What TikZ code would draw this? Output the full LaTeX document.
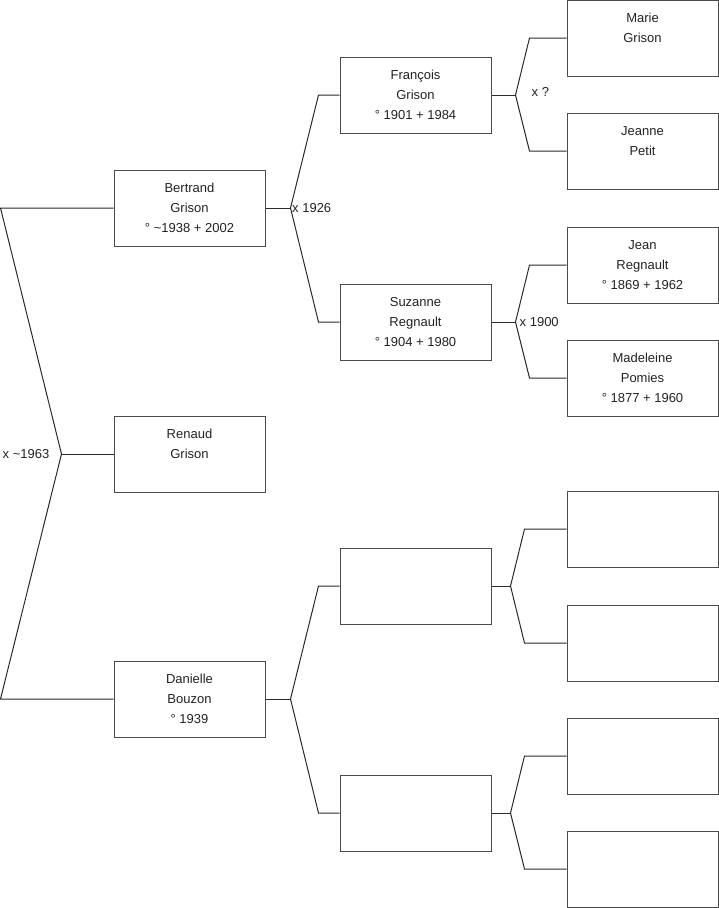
\documentclass[tikz,border=0pt]{standalone}
\usepackage{fontspec}
\setmainfont{Liberation Sans}
\usetikzlibrary{positioning, calc}
\definecolor{inkgray}{HTML}{222222}
\definecolor{boxedge}{HTML}{4A4A4A}
\definecolor{linkgray}{HTML}{2A2A2A}

\begin{document}
\begin{tikzpicture}[x=1pt, y=-1pt,
  person/.style={draw=boxedge, line width=1pt, minimum width=151pt, minimum height=76pt, inner sep=0pt, align=center, text=inkgray, font=\fontsize{13}{20}\selectfont},
  link/.style={draw=linkgray, line width=1pt},
  union/.style={text=inkgray, font=\fontsize{13}{15}\selectfont, inner sep=0pt}]

\useasboundingbox (0,0) rectangle (719,908);

% --- Generation 1 ---
\node[person] (renaud) at (189.5,454) {Renaud\\Grison\\\mbox{}};

% --- Generation 2 ---
\node[person] (bertrand) at (189.5,208) {Bertrand\\Grison\\° \textasciitilde1938 + 2002};
\node[person] (danielle) at (189.5,699) {Danielle\\Bouzon\\° 1939};

% --- Generation 3 ---
\node[person] (francois) at (415.5,95) {François\\Grison\\° 1901 + 1984};
\node[person] (suzanne) at (415.5,322) {Suzanne\\Regnault\\° 1904 + 1980};
\node[person] (b3) at (415.5,586) {};
\node[person] (b4) at (415.5,813) {};

% --- Generation 4 ---
\node[person] (marie) at (642.5,38) {Marie\\Grison\\\mbox{}};
\node[person] (jeanne) at (642.5,151) {Jeanne\\Petit\\\mbox{}};
\node[person] (jean) at (642.5,265) {Jean\\Regnault\\° 1869 + 1962};
\node[person] (madeleine) at (642.5,378) {Madeleine\\Pomies\\° 1877 + 1960};
\foreach \name/\y in {c5/529, c6/643, c7/756, c8/869}
  \node[person] (\name) at (642.5,\y) {};

% Renaud's parents
\coordinate (f1) at ($(renaud.west)+(-52,0)$);
\draw[link] (renaud.west) -- (f1);
\draw[link] (f1) -- ($(bertrand.west)+(-113,0)$) -- (bertrand.west);
\draw[link] (f1) -- ($(danielle.west)+(-113,0)$) -- (danielle.west);
\node[union, left=12pt of f1] (u1) {x \textasciitilde1963};

% Bertrand's parents
\coordinate (f2) at ($(bertrand.east)+(25,0)$);
\draw[link] (bertrand.east) -- (f2);
\draw[link] (f2) -- ($(francois.west)+(-21,0)$) -- (francois.west);
\draw[link] (f2) -- ($(suzanne.west)+(-21,0)$) -- (suzanne.west);
\node[union, right=1.5pt of f2] (u2) {x 1926};

% Danielle's parents
\coordinate (f3) at ($(danielle.east)+(25,0)$);
\draw[link] (danielle.east) -- (f3);
\draw[link] (f3) -- ($(b3.west)+(-21,0)$) -- (b3.west);
\draw[link] (f3) -- ($(b4.west)+(-21,0)$) -- (b4.west);

% Francois's parents
\coordinate (f4) at ($(francois.east)+(24,0)$);
\draw[link] (francois.east) -- (f4);
\draw[link] (f4) -- ($(marie.west)+(-37,0)$) -- (marie.west);
\draw[link] (f4) -- ($(jeanne.west)+(-37,0)$) -- (jeanne.west);
\node[union, right=16pt of f4, yshift=3pt] (u4) {x ?};

% Suzanne's parents
\coordinate (f5) at ($(suzanne.east)+(24,0)$);
\draw[link] (suzanne.east) -- (f5);
\draw[link] (f5) -- ($(jean.west)+(-37,0)$) -- (jean.west);
\draw[link] (f5) -- ($(madeleine.west)+(-37,0)$) -- (madeleine.west);
\node[union, right=4pt of f5] (u5) {x 1900};

% unknown branches
\coordinate (f6) at ($(b3.east)+(19,0)$);
\draw[link] (b3.east) -- (f6);
\draw[link] (f6) -- ($(c5.west)+(-42,0)$) -- (c5.west);
\draw[link] (f6) -- ($(c6.west)+(-42,0)$) -- (c6.west);

\coordinate (f7) at ($(b4.east)+(19,0)$);
\draw[link] (b4.east) -- (f7);
\draw[link] (f7) -- ($(c7.west)+(-42,0)$) -- (c7.west);
\draw[link] (f7) -- ($(c8.west)+(-42,0)$) -- (c8.west);

\end{tikzpicture}
\end{document}
